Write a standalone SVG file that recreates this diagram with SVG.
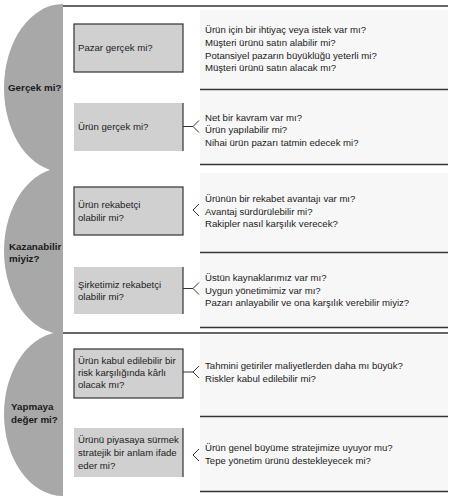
<svg xmlns="http://www.w3.org/2000/svg" width="454" height="499" viewBox="0 0 454 499">
<style>
text{font-family:"Liberation Sans",Arial,sans-serif;font-size:9.6px;fill:#222}
.lbl{font-weight:bold;font-size:9.8px;fill:#1a1a1a}
.half{fill:#a8a8a8}
.box{fill:#d0d0d0}
.bd{fill:none;stroke:#333;stroke-width:1.2}
.cell{fill:#f7f7f7}
.rule{stroke:#333;stroke-width:1.4}
.con{fill:none;stroke:#333;stroke-width:1}
</style>
<rect width="454" height="499" fill="#fff"/>
<defs>
<clipPath id="lc"><rect x="0" y="0" width="63" height="499"/></clipPath>
</defs>
<g id="stage-gercek">
<ellipse class="half" cx="63" cy="88" rx="59" ry="84" clip-path="url(#lc)"/>
<text class="lbl" x="8" y="90.5">Gerçek mi?</text>
</g>
<g id="stage-kazanabilir">
<ellipse class="half" cx="63" cy="251" rx="59" ry="83" clip-path="url(#lc)"/>
<text class="lbl" x="9" y="249.5">Kazanabilir</text>
<text class="lbl" x="9" y="262">miyiz?</text>
</g>
<g id="stage-yapmaya">
<ellipse class="half" cx="63" cy="414" rx="59" ry="82" clip-path="url(#lc)"/>
<text class="lbl" x="11" y="410">Yapmaya</text>
<text class="lbl" x="11" y="422.5">değer mi?</text>
</g>
<line class="rule" x1="63" y1="6" x2="448" y2="6"/>
<line class="rule" x1="63" y1="333" x2="448" y2="333"/>
<g id="q1">
<rect class="box" x="74" y="24" width="109" height="48"/>
<rect class="bd" x="74" y="24" width="109" height="48"/>
<text x="78" y="51">Pazar gerçek mi?</text>
</g>
<g id="q2">
<rect class="box" x="74" y="103" width="109" height="48"/>
<line class="bd" x1="183" y1="103" x2="183" y2="151"/>
<text x="78" y="130">Ürün gerçek mi?</text>
</g>
<g id="q3">
<rect class="box" x="74" y="187" width="109" height="48"/>
<rect class="bd" x="74" y="187" width="109" height="48"/>
<text x="78" y="208">Ürün rekabetçi</text>
<text x="78" y="220.5">olabilir mi?</text>
</g>
<g id="q4">
<rect class="box" x="74" y="267" width="109" height="47"/>
<line class="bd" x1="183" y1="267" x2="183" y2="314"/>
<text x="78" y="287.5">Şirketimiz rekabetçi</text>
<text x="78" y="300">olabilir mi?</text>
</g>
<g id="q5">
<rect class="box" x="74" y="349" width="109" height="49"/>
<rect class="bd" x="74" y="349" width="109" height="49"/>
<text x="78" y="364">Ürün kabul edilebilir bir</text>
<text x="78" y="376">risk karşılığında kârlı</text>
<text x="78" y="388">olacak mı?</text>
</g>
<g id="q6">
<rect class="box" x="74" y="428" width="109" height="49"/>
<line class="bd" x1="183" y1="428" x2="183" y2="477"/>
<text x="78" y="443">Ürünü piyasaya sürmek</text>
<text x="78" y="456">stratejik bir anlam ifade</text>
<text x="78" y="469">eder mi?</text>
</g>
<g id="a1">
<rect class="cell" x="200" y="10" width="248" height="79"/>
<line class="rule" x1="200" y1="89.5" x2="448" y2="89.5"/>
<text x="205" y="33">Ürün için bir ihtiyaç veya istek var mı?</text>
<text x="205" y="46">Müşteri ürünü satın alabilir mi?</text>
<text x="205" y="58.5">Potansiyel pazarın büyüklüğü yeterli mi?</text>
<text x="205" y="71">Müşteri ürünü satın alacak mı?</text>
</g>
<g id="a2">
<rect class="cell" x="200" y="91" width="248" height="73"/>
<line class="rule" x1="200" y1="164.5" x2="448" y2="164.5"/>
<text x="205" y="120.5">Net bir kavram var mı?</text>
<text x="205" y="133">Ürün yapılabilir mi?</text>
<text x="205" y="145.5">Nihai ürün pazarı tatmin edecek mi?</text>
</g>
<g id="a3">
<rect class="cell" x="200" y="173" width="248" height="79"/>
<line class="rule" x1="200" y1="252.5" x2="448" y2="252.5"/>
<text x="205" y="202">Ürünün bir rekabet avantajı var mı?</text>
<text x="205" y="214.5">Avantaj sürdürülebilir mi?</text>
<text x="205" y="227">Rakipler nasıl karşılık verecek?</text>
</g>
<g id="a4">
<rect class="cell" x="200" y="254" width="248" height="73"/>
<line class="rule" x1="200" y1="327.5" x2="448" y2="327.5"/>
<text x="205" y="281">Üstün kaynaklarımız var mı?</text>
<text x="205" y="293.5">Uygun yönetimimiz var mı?</text>
<text x="205" y="306">Pazarı anlayabilir ve ona karşılık verebilir miyiz?</text>
</g>
<g id="a5">
<rect class="cell" x="200" y="335" width="248" height="81"/>
<line class="rule" x1="200" y1="416.5" x2="448" y2="416.5"/>
<text x="205" y="369">Tahmini getiriler maliyetlerden daha mı büyük?</text>
<text x="205" y="382">Riskler kabul edilebilir mi?</text>
</g>
<g id="a6">
<rect class="cell" x="200" y="418" width="248" height="73"/>
<line class="rule" x1="200" y1="491.5" x2="448" y2="491.5"/>
<text x="205" y="451">Ürün genel büyüme stratejimize uyuyor mu?</text>
<text x="205" y="463.5">Tepe yönetim ürünü destekleyecek mi?</text>
</g>
<g id="connectors">
<path class="con" d="M183 126.5H193M199 120.5L193 126.5L199 132.5"/>
<path class="con" d="M199 204L193 210L199 216"/>
<path class="con" d="M183 288.5H193M199 282.5L193 288.5L199 294.5"/>
<path class="con" d="M183 372H193M199 366L193 372L199 378"/>
<path class="con" d="M199 449L193 455L199 461"/>
</g>
</svg>
